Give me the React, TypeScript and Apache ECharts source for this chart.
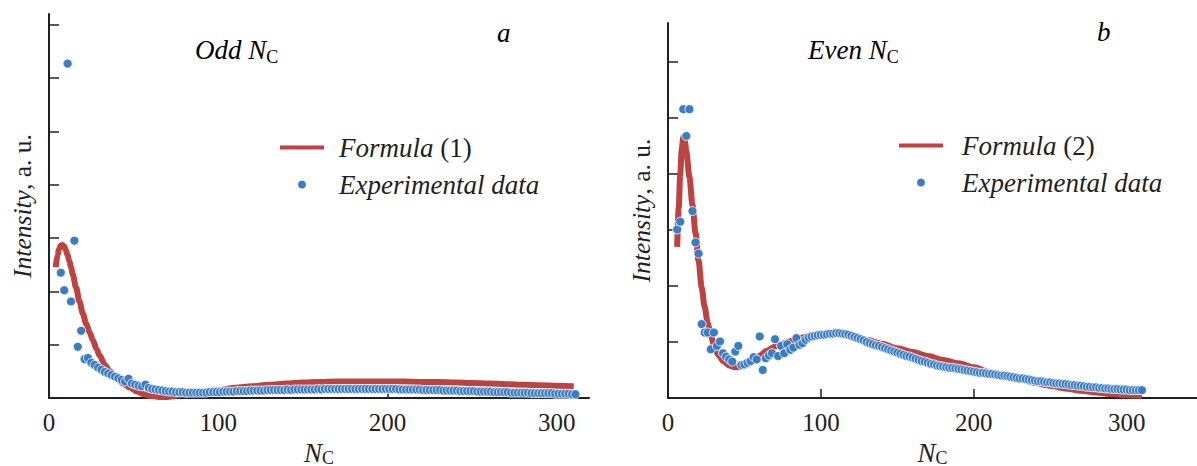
import React, { useEffect, useRef } from 'react';
import * as echarts from 'echarts';

const FONT = "'Liberation Serif', 'Times New Roman', Times, serif";
const TEXT = '#231f20';
const RED = '#bd4340';
const BLUE = '#3b7dc4';

// ---- Panel a: odd N_C ----
const oddN = [7,9,11,13,15,17,19,21,23,25,27,29,31,33,35,37,39,41,43,45,47,49,51,53,55,57,59,61,63,65,67,69,71,73,75,77,79,81,83,85,87,89,91,93,95,97,99,101,103,105,107,109,111,113,115,117,119,121,123,125,127,129,131,133,135,137,139,141,143,145,147,149,151,153,155,157,159,161,163,165,167,169,171,173,175,177,179,181,183,185,187,189,191,193,195,197,199,201,203,205,207,209,211,213,215,217,219,221,223,225,227,229,231,233,235,237,239,241,243,245,247,249,251,253,255,257,259,261,263,265,267,269,271,273,275,277,279,281,283,285,287,289,291,293,295,297,299,301,303,305,307,309,311];
const oddIntensity = [
  2.35,2.02,6.27,1.81,2.95,0.96,1.26,0.73,0.75,0.66,
  0.62,0.57,0.53,0.49,0.46,0.43,0.40,0.37,0.34,0.31,
  0.36,0.27,0.25,0.23,0.22,0.25,0.19,0.17,0.16,0.15,
  0.14,0.13,0.12,0.12,0.11,0.11,0.11,0.10,0.10,0.10,
  0.10,0.10,0.10,0.10,0.11,0.11,0.11,0.11,0.12,0.12,
  0.12,0.12,0.13,0.13,0.13,0.13,0.14,0.14,0.14,0.14,
  0.14,0.15,0.15,0.15,0.15,0.15,0.15,0.16,0.15,0.16,
  0.16,0.16,0.16,0.16,0.16,0.16,0.17,0.16,0.17,0.17,
  0.17,0.17,0.17,0.17,0.17,0.17,0.17,0.17,0.17,0.17,
  0.17,0.17,0.17,0.17,0.17,0.17,0.17,0.17,0.17,0.17,
  0.16,0.16,0.16,0.16,0.16,0.16,0.16,0.15,0.15,0.15,
  0.15,0.15,0.15,0.14,0.14,0.14,0.14,0.14,0.13,0.13,
  0.13,0.13,0.13,0.12,0.12,0.12,0.12,0.12,0.11,0.11,
  0.11,0.11,0.11,0.10,0.10,0.10,0.10,0.10,0.10,0.09,
  0.09,0.09,0.09,0.09,0.09,0.09,0.08,0.08,0.08,0.08,
  0.08,0.07,0.07
];
const formula1N = [4,5,6,7,8,9,10,11,12,13,14,16,18,20,22,24,26,28,30,33,36,40,44,48,52,56,60,65,70,80,90,100,110,120,130,140,150,160,170,180,190,200,210,220,230,240,250,260,270,280,290,300,310];
const formula1Y = [2.45,2.68,2.80,2.86,2.87,2.84,2.77,2.68,2.57,2.45,2.32,2.07,1.81,1.58,1.39,1.23,1.08,0.92,0.79,0.62,0.50,0.37,0.27,0.19,0.12,0.07,0.04,0.02,0.02,0.06,0.11,0.15,0.19,0.22,0.25,0.27,0.29,0.30,0.31,0.31,0.31,0.31,0.31,0.30,0.30,0.29,0.28,0.27,0.26,0.25,0.24,0.23,0.22];

// ---- Panel b: even N_C ----
const evenN = [6,8,10,12,14,16,18,20,22,24,26,28,30,32,34,36,38,40,42,44,46,48,50,52,54,56,58,60,62,64,66,68,70,72,74,76,78,80,82,84,86,88,90,92,94,96,98,100,102,104,106,108,110,112,114,116,118,120,122,124,126,128,130,132,134,136,138,140,142,144,146,148,150,152,154,156,158,160,162,164,166,168,170,172,174,176,178,180,182,184,186,188,190,192,194,196,198,200,202,204,206,208,210,212,214,216,218,220,222,224,226,228,230,232,234,236,238,240,242,244,246,248,250,252,254,256,258,260,262,264,266,268,270,272,274,276,278,280,282,284,286,288,290,292,294,296,298,300,302,304,306,308,310];
const evenIntensity = [
  3.01,3.15,5.16,4.68,5.16,3.34,2.78,2.58,1.32,1.17,
  1.17,0.87,1.17,0.93,1.01,0.80,0.74,0.69,0.65,0.83,
  0.93,0.59,0.60,0.63,0.66,0.73,0.69,1.10,0.50,0.71,
  0.76,0.80,1.05,0.75,0.93,0.80,0.96,0.86,0.90,1.07,
  0.95,0.98,1.04,1.08,1.10,1.11,1.12,1.13,1.13,1.14,
  1.15,1.15,1.16,1.16,1.15,1.14,1.13,1.11,1.09,1.07,
  1.05,1.03,1.00,0.98,0.96,0.94,0.93,0.91,0.89,0.87,
  0.85,0.83,0.81,0.79,0.77,0.75,0.74,0.72,0.70,0.68,
  0.66,0.65,0.63,0.61,0.60,0.58,0.57,0.56,0.55,0.54,
  0.54,0.53,0.52,0.51,0.50,0.49,0.48,0.47,0.46,0.45,
  0.45,0.44,0.43,0.43,0.42,0.41,0.40,0.40,0.39,0.38,
  0.37,0.36,0.35,0.35,0.34,0.33,0.32,0.31,0.30,0.30,
  0.29,0.28,0.28,0.27,0.26,0.26,0.25,0.25,0.24,0.23,
  0.23,0.22,0.22,0.21,0.20,0.20,0.19,0.19,0.18,0.18,
  0.17,0.17,0.16,0.16,0.16,0.15,0.15,0.15,0.14,0.14,
  0.14,0.14,0.14
];
const formula2N = [6,7,8,9,10,11,12,14,16,18,20,22,24,26,28,30,33,36,40,44,48,52,56,60,65,70,76,82,88,95,100,105,110,115,120,130,140,150,160,170,180,190,200,210,220,230,240,250,260,270,280,290,300,310];
const formula2Y = [2.70,3.40,4.00,4.45,4.66,4.60,4.40,3.95,3.45,2.95,2.45,1.98,1.62,1.33,1.12,0.95,0.77,0.66,0.58,0.55,0.56,0.60,0.67,0.76,0.85,0.92,0.98,1.03,1.08,1.12,1.14,1.15,1.15,1.13,1.10,1.04,0.97,0.89,0.82,0.75,0.68,0.62,0.55,0.47,0.40,0.33,0.27,0.22,0.17,0.13,0.10,0.07,0.05,0.04];

// ---- Axis ticks / labels ----
const xLabelValues = [0, 100, 200, 300];
const xTickValues = [100, 200, 300];
const yTickValuesA = [1, 2, 3, 4, 5, 6, 7];
const yTickValuesB = [1, 2, 3, 4, 5, 6];

const zip = (xs: number[], ys: number[]) => xs.map((x, i) => [x, ys[i]]);

export default function App() {
  const ref = useRef<HTMLDivElement>(null);
  useEffect(() => {
    const chart = echarts.init(ref.current!, null, { renderer: 'svg' });
    const lineStyle = { color: TEXT, width: 2 };
    const subRich = {
      n: { fontFamily: FONT, fontSize: 27, fontStyle: 'italic', color: TEXT },
      s: { fontFamily: FONT, fontSize: 18, color: TEXT, padding: [14, 0, 0, 0] },
    };
    const nameRich = {
      n: { fontFamily: FONT, fontSize: 27, fontStyle: 'italic', color: TEXT },
      s: { fontFamily: FONT, fontSize: 18, color: TEXT, padding: [9, 0, 0, 0] },
    };
    const makeX = (gridIndex: number, max: number) => ({
      type: 'value', gridIndex, min: 0, max,
      axisLine: { show: true, onZero: false, lineStyle },
      axisTick: { show: true, inside: true, length: 9, lineStyle: { color: TEXT, width: 1.5 }, customValues: xTickValues },
      axisLabel: { show: true, customValues: xLabelValues, fontFamily: FONT, fontSize: 25, color: TEXT, margin: 12 },
      splitLine: { show: false },
      name: '{n|N}{s|C}',
      nameLocation: 'middle',
      nameGap: 35,
      nameTextStyle: { fontFamily: FONT, rich: nameRich },
    });
    const makeY = (gridIndex: number, max: number, ticks: number[]) => ({
      type: 'value', gridIndex, min: 0, max,
      axisLine: { show: true, onZero: false, lineStyle },
      axisTick: { show: true, inside: true, length: 10, lineStyle: { color: TEXT, width: 1.5 }, customValues: ticks },
      axisLabel: { show: false },
      splitLine: { show: false },
      name: '{i|Intensity}{r|, a. u.}',
      nameLocation: 'middle',
      nameGap: 14,
      nameTextStyle: {
        fontFamily: FONT,
        rich: {
          i: { fontFamily: FONT, fontSize: 25.5, fontStyle: 'italic', color: TEXT },
          r: { fontFamily: FONT, fontSize: 25.5, color: TEXT },
        },
      },
    });
    const legendFormatter = (name: string) =>
      name.startsWith('Formula') ? `{i|Formula}{r|${name.slice(7)}}` : '{i|Experimental data}';
    const legendText = {
      fontFamily: FONT,
      rich: {
        i: { fontFamily: FONT, fontSize: 27, fontStyle: 'italic', color: TEXT, lineHeight: 30 },
        r: { fontFamily: FONT, fontSize: 27, color: TEXT, lineHeight: 30 },
      },
    };
    const annot = (left: number, top: number, main: string, sub?: string) => ({
      type: 'text', left, top,
      style: {
        text: sub ? `{n|${main}}{s|${sub}}` : `{n|${main}}`,
        fontFamily: FONT,
        rich: subRich,
      },
    });
    chart.setOption({
      animation: false,
      backgroundColor: '#ffffff',
      textStyle: { fontFamily: FONT },
      grid: [
        { left: 49, top: 14, width: 540, height: 384, outerBoundsMode: 'none', containLabel: false },
        { left: 668, top: 23, width: 529, height: 375, outerBoundsMode: 'none', containLabel: false },
      ],
      xAxis: [makeX(0, 319), makeX(1, 346)],
      yAxis: [makeY(0, 7.2, yTickValuesA), makeY(1, 6.7, yTickValuesB)],
      legend: [
        {
          orient: 'vertical', left: 278, top: 134, padding: 0, itemGap: 10,
          itemWidth: 44, itemHeight: 10, selectedMode: false,
          data: [{ name: 'Formula (1)', itemStyle: { opacity: 0 } }, { name: 'Experimental data (a)' }],
          formatter: legendFormatter,
          textStyle: { ...legendText, padding: [0, 0, 0, 10] },
          lineStyle: { width: 4 },
        },
        {
          orient: 'vertical', left: 897, top: 132, padding: 0, itemGap: 10,
          itemWidth: 44, itemHeight: 10, selectedMode: false,
          data: [{ name: 'Formula (2)', itemStyle: { opacity: 0 } }, { name: 'Experimental data (b)' }],
          formatter: legendFormatter,
          textStyle: { ...legendText, padding: [0, 0, 0, 14] },
          lineStyle: { width: 4 },
        },
      ],
      graphic: [
        annot(195, 36, 'Odd N', 'C'),
        annot(497, 19, 'a'),
        annot(808, 36, 'Even N', 'C'),
        annot(1097, 18, 'b'),
      ],
      series: [
        {
          name: 'Formula (1)', type: 'line', xAxisIndex: 0, yAxisIndex: 0,
          data: zip(formula1N, formula1Y), symbol: 'none', smooth: 0.3, smoothMonotone: 'x',
          lineStyle: { color: RED, width: 6 }, itemStyle: { color: RED }, z: 2,
        },
        {
          name: 'Experimental data (a)', type: 'scatter', xAxisIndex: 0, yAxisIndex: 0,
          data: zip(oddN, oddIntensity), symbol: 'circle', symbolSize: 9,
          itemStyle: { color: BLUE, borderColor: '#ffffff', borderWidth: 0.8, opacity: 1 }, z: 3,
        },
        {
          name: 'Formula (2)', type: 'line', xAxisIndex: 1, yAxisIndex: 1,
          data: zip(formula2N, formula2Y), symbol: 'none', smooth: 0.3, smoothMonotone: 'x',
          lineStyle: { color: RED, width: 6 }, itemStyle: { color: RED }, z: 2,
        },
        {
          name: 'Experimental data (b)', type: 'scatter', xAxisIndex: 1, yAxisIndex: 1,
          data: zip(evenN, evenIntensity), symbol: 'circle', symbolSize: 9,
          itemStyle: { color: BLUE, borderColor: '#ffffff', borderWidth: 0.8, opacity: 1 }, z: 3,
        },
      ],
    });
    return () => chart.dispose();
  }, []);
  return <div ref={ref} style={{ position: 'absolute', left: 0, top: 0, width: 1197, height: 466 }} />;
}
